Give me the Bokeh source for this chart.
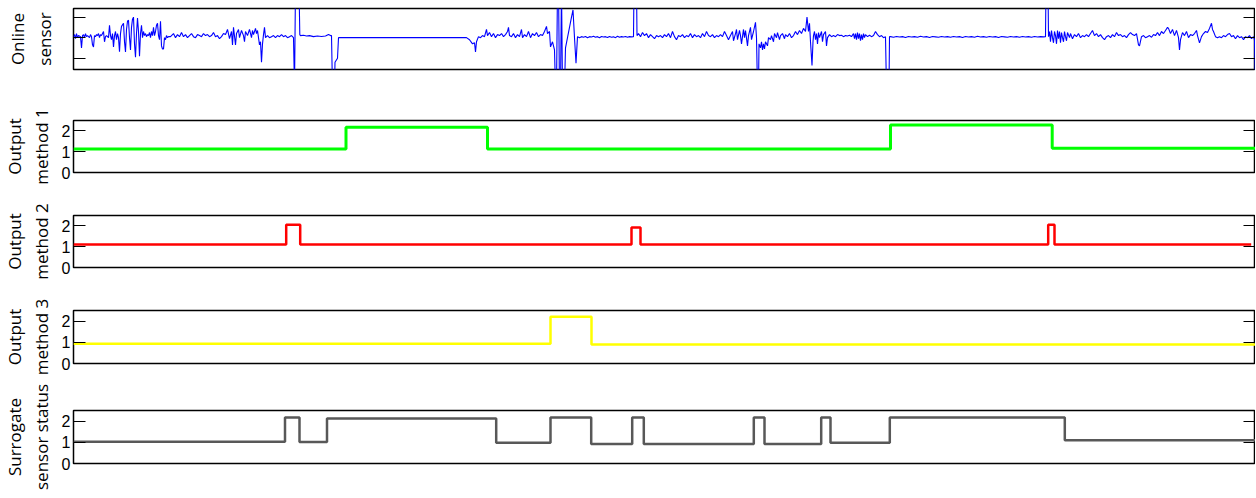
from bokeh.plotting import figure
from bokeh.layouts import column
from bokeh.models import Range1d, FixedTicker, LinearAxis
from bokeh.embed import file_html
from bokeh.resources import INLINE

# ---------------- data ----------------
# online sensor trace: (sample, value)
SENSOR_POINTS = [
    (0, 0.05), (1, 0.15), (2, -0.05), (3, 0.2), (4, 0.0), (5, 0.1), (7, 0.05), (8, -0.5), (9, 0.1),
    (10, 0.15), (11, 0.0), (12, 0.2), (13, 0.05), (14, 0.1), (16, 0.0), (17, 0.15), (18, 0.05),
    (19, -0.35), (20, -0.45), (21, 0.1), (22, 0.05), (23, 0.15), (24, 0.1), (25, 0.2), (26, 0.0),
    (27, 0.15), (28, 0.1), (30, 0.3), (31, -0.2), (32, 0.05), (33, 0.1), (35, 0.0), (36, 0.6),
    (37, 0.1), (38, -0.1), (39, 0.2), (40, -0.45), (41, 0.1), (42, 0.3), (43, -0.1), (44, 0.2),
    (45, 0.0), (46, -0.68), (47, 0.2), (48, 0.55), (50, 0.7), (51, -0.2), (52, -0.7), (53, 0.4),
    (54, 0.8), (55, 0.85), (56, 0.0), (57, -0.6), (58, 0.5), (59, 0.9), (60, 1.0), (61, -0.3),
    (62, -0.95), (63, 0.2), (64, 0.95), (65, 0.3), (66, -0.9), (67, 0.2), (68, 0.6), (69, 0.0),
    (70, 0.3), (71, 0.1), (72, 0.2), (73, 0.05), (74, 0.15), (75, 0.1), (76, 0.25), (77, 0.0),
    (78, 0.3), (79, 0.1), (80, 0.5), (81, 0.1), (82, 0.3), (83, 0.6), (84, 0.7), (85, 0.1),
    (86, -0.1), (87, 0.8), (88, -0.4), (89, -0.55), (90, -0.55), (91, 0.0), (92, -0.1), (93, 0.1),
    (94, 0.0), (95, 0.05), (97, 0.05), (100, 0.2), (102, 0.0), (104, 0.15), (106, 0.05),
    (108, 0.25), (110, 0.05), (112, 0.15), (114, 0.0), (116, 0.1), (118, 0.2), (120, 0.05),
    (122, 0.0), (124, 0.15), (126, 0.1), (128, 0.05), (130, 0.2), (132, 0.1), (134, 0.15),
    (136, 0.05), (138, 0.1), (140, 0.25), (142, 0.05), (144, 0.1), (146, -0.05), (148, 0.05),
    (150, 0.2), (152, 0.15), (154, 0.4), (156, -0.05), (158, 0.3), (159, -0.35), (160, 0.5),
    (162, -0.35), (163, 0.2), (165, 0.4), (166, 0.0), (168, 0.35), (170, 0.1), (171, -0.2),
    (172, 0.3), (174, 0.1), (176, 0.4), (178, 0.0), (179, 0.35), (180, 0.15), (182, 0.45),
    (183, 0.2), (184, 0.35), (186, -0.35), (187, -0.2), (188, -1.2), (189, -0.3), (190, 0.15),
    (191, 0.5), (192, 0.0), (194, 0.1), (196, 0.0), (198, 0.05), (200, 0.1), (202, 0.0),
    (204, 0.1), (206, 0.05), (208, 0.15), (210, 0.05), (212, 0.1), (214, 0.0), (216, 0.05),
    (218, 0.1), (220, 0.0), (221, -2.5), (222, 2.5), (225.5, 2.5), (226.3, 0.15),
    (227, 0.1), (230, 0.12), (233, 0.08), (236, 0.1), (240, 0.05), (244, 0.08), (248, 0.06),
    (252, 0.08), (255, 0.15), (257, 0.1), (258, 0.1), (259, -2.5), (261, -2.5), (261.5, -1.2),
    (264, -1.0), (265, 0.0), (393, 0.0), (396, -0.1), (399, -0.3), (401, -0.25), (402, -0.7),
    (403, -0.2), (405, 0.05), (407, 0.0), (409, 0.1), (411, 0.05), (413, 0.4), (414, 0.1),
    (416, 0.25), (418, 0.05), (420, 0.2), (422, 0.0), (424, 0.15), (426, 0.1), (428, 0.2),
    (430, 0.05), (432, 0.15), (434, 0.3), (435, 0.5), (436, 0.1), (438, 0.05), (440, 0.2),
    (442, 0.0), (444, 0.15), (446, 0.05), (448, 0.4), (449, 0.0), (451, 0.15), (453, 0.05),
    (455, 0.3), (457, 0.0), (459, 0.2), (461, 0.1), (463, 0.25), (465, 0.05), (467, 0.15),
    (469, 0.1), (471, 0.3), (473, 0.55), (474, 0.2), (476, 0.3), (477, -0.45), (479, -0.2),
    (481, -0.6), (482, -2.5), (483, -2.5), (484, 2.5), (485, 2.5), (486, -2.5), (487, -2.5),
    (488, 2.5), (489, -2.5), (491, -2.5), (492, -0.5), (494, 0.0), (496, 0.5), (498, 1.0),
    (499.5, 1.35), (501, 0.0), (502.5, -1.25), (504, 0.05), (506, 0.0), (508, 0.05),
    (510, 0.02), (512, 0.06), (514, 0.0), (516, 0.05), (518, 0.03), (520, 0.07), (522, 0.02),
    (524, 0.05), (526, 0.0), (528, 0.06), (530, 0.03), (532, 0.05), (534, 0.01), (536, 0.06),
    (538, 0.02), (540, 0.04), (542, 0.0), (544, 0.07), (546, 0.02), (548, 0.05), (550, 0.03),
    (552, 0.06), (554, 0.02), (556, 0.05), (558, 0.04), (560, 0.05), (560.5, 2.5), (563, 2.5),
    (563.5, 0.1), (565, 0.2), (567, 0.05), (569, 0.25), (571, 0.1), (573, 0.2), (575, 0.0),
    (577, 0.15), (579, 0.05), (581, -0.05), (583, 0.1), (585, 0.05), (587, 0.1), (589, 0.0),
    (591, 0.15), (593, 0.05), (595, 0.2), (597, 0.0), (599, 0.3), (601, 0.05), (603, -0.1),
    (605, 0.1), (607, 0.05), (609, 0.15), (611, 0.0), (613, 0.1), (615, 0.05), (617, 0.2),
    (619, 0.0), (621, 0.15), (623, 0.05), (625, 0.1), (627, 0.0), (629, 0.2), (631, 0.05),
    (633, 0.3), (635, 0.1), (637, 0.05), (639, 0.15), (641, 0.0), (643, 0.1), (645, 0.05),
    (647, 0.15), (649, 0.05), (651, 0.3), (653, 0.1), (655, -0.1), (657, 0.1), (659, 0.3),
    (660, -0.15), (662, 0.2), (663, 0.4), (664, -0.1), (666, 0.35), (667, 0.1), (668, -0.3),
    (670, 0.4), (671, 0.0), (672, 0.35), (674, -0.4), (675, 0.1), (677, 0.5), (678, -0.1),
    (680, 0.3), (682, 0.75), (683, 0.0), (684, -2.5), (685, -2.5), (685.5, -0.3), (687, -0.5),
    (688, -0.2), (689, -0.6), (690, -0.3), (691, -0.55), (692, -0.2), (694, -0.4), (695, 0.0),
    (697, -0.1), (698, 0.1), (700, -0.2), (701, 0.2), (703, 0.0), (704, 0.25), (706, -0.1),
    (707, 0.1), (709, 0.2), (711, -0.05), (712, 0.15), (714, 0.05), (716, 0.2), (718, 0.0),
    (720, 0.1), (722, 0.3), (724, 0.15), (726, 0.35), (728, 0.2), (730, 0.45), (732, 0.3),
    (733.5, 1.0), (735, 0.3), (736, 0.7), (737, -0.2), (738.5, -1.35), (739.5, -0.2),
    (740, 0.1), (741, 0.3), (742, -0.1), (743, 0.2), (744, -0.3), (745, 0.25), (746, 0.0),
    (748, 0.3), (749, -0.2), (750, 0.15), (752, 0.3), (753, -0.4), (754, 0.0), (756, 0.15),
    (758, 0.05), (760, 0.1), (762, 0.05), (764, 0.15), (766, 0.1), (768, 0.12), (770, 0.05),
    (772, 0.1), (774, 0.08), (776, 0.12), (778, 0.05), (780, 0.2), (781, -0.05), (782, 0.2),
    (783, -0.1), (784, 0.25), (785, -0.05), (786, 0.2), (787, -0.15), (788, 0.15), (789, -0.1),
    (790, 0.2), (791, 0.0), (792, 0.15), (794, 0.05), (796, 0.12), (798, 0.05), (800, 0.1),
    (802, 0.3), (804, 0.15), (806, 0.05), (808, 0.1), (810, 0.0), (812, 0.05), (813, -2.5),
    (815.5, -2.5), (816, 0.05), (817, 0.05), (820, 0.02), (823, 0.06), (826, 0.03), (829, 0.05),
    (832, 0.01), (835, 0.06), (838, 0.03), (841, 0.05), (844, 0.02), (847, 0.07), (850, 0.03),
    (853, 0.05), (856, 0.01), (859, 0.06), (862, 0.04), (865, 0.02), (868, 0.06), (871, 0.03),
    (874, 0.05), (877, 0.02), (880, 0.06), (883, 0.03), (886, 0.05), (889, 0.01), (892, 0.06),
    (895, 0.03), (898, 0.05), (901, 0.02), (904, 0.07), (907, 0.03), (910, 0.05), (913, 0.02),
    (916, 0.06), (919, 0.03), (922, 0.05), (925, 0.01), (928, 0.06), (931, 0.04), (934, 0.02),
    (937, 0.06), (940, 0.03), (943, 0.05), (946, 0.02), (949, 0.06), (952, 0.03), (955, 0.05),
    (958, 0.02), (961, 0.06), (964, 0.03), (967, 0.05), (970, 0.04), (972, 0.05), (972.5, 2.5),
    (974.5, 2.5), (975, 0.05), (976, 0.3), (977, -0.2), (978, 0.35), (979, 0.0), (980, -0.25),
    (981, 0.3), (982, 0.1), (983, -0.3), (984, 0.35), (985, -0.05), (986, 0.3), (987, -0.25),
    (988, 0.25), (989, 0.0), (990, -0.2), (991, 0.3), (992, 0.05), (993, -0.15), (994, 0.25),
    (996, 0.0), (997, 0.2), (999, -0.05), (1001, 0.15), (1003, 0.05), (1005, 0.2), (1007, 0.0),
    (1009, 0.1), (1011, 0.05), (1013, 0.15), (1015, 0.05), (1017, 0.2), (1019, 0.35),
    (1021, 0.1), (1023, 0.2), (1025, 0.05), (1027, 0.15), (1029, 0.0), (1031, -0.1),
    (1033, 0.05), (1035, 0.1), (1037, 0.0), (1039, 0.15), (1041, 0.05), (1043, 0.25),
    (1045, 0.1), (1047, 0.15), (1049, 0.05), (1051, 0.1), (1053, 0.0), (1055, 0.15),
    (1057, 0.25), (1059, 0.15), (1061, 0.1), (1063, 0.2), (1065, -0.35), (1066, -0.4),
    (1068, 0.05), (1070, 0.1), (1072, 0.0), (1074, 0.05), (1076, 0.1), (1078, 0.02),
    (1080, 0.15), (1082, 0.1), (1084, 0.25), (1086, 0.1), (1088, 0.3), (1090, 0.2),
    (1092, 0.35), (1094, 0.5), (1095, 0.45), (1097, 0.2), (1099, 0.4), (1101, 0.1),
    (1103, 0.35), (1105, 0.0), (1106, -0.6), (1107, -0.1), (1109, 0.25), (1111, 0.1),
    (1113, 0.3), (1115, 0.0), (1117, 0.15), (1119, 0.1), (1121, 0.2), (1123, 0.35), (1124, 0.1),
    (1126, -0.25), (1128, 0.05), (1130, 0.2), (1132, 0.3), (1134, 0.25), (1136, 0.45),
    (1138, 0.7), (1139, 0.4), (1140, 0.3), (1142, 0.05), (1144, 0.0), (1146, 0.05), (1148, 0.0),
    (1150, 0.1), (1152, 0.05), (1154, 0.15), (1156, 0.2), (1158, 0.05), (1160, 0.1),
    (1162, -0.05), (1164, 0.1), (1166, 0.0), (1168, 0.05), (1170, -0.1), (1172, 0.05),
    (1174, 0.0), (1176, 0.1), (1178, -0.05), (1180, 0.05), (1181, -0.1), (1182, -2.5),
]

# step outputs: change points (sample) and level held from that point on
M1_T = [0, 272.5, 414, 817, 978.7, 1182]
M1_V = [1.13, 2.17, 1.13, 2.28, 1.16, 1.16]

M2_T = [0, 212.7, 226.7, 558, 567, 974.7, 981, 1177.7]
M2_V = [1.1, 2.06, 1.1, 1.92, 1.1, 2.06, 1.1, 1.1]

M3_T = [0, 477, 518, 1182]
M3_V = [0.93, 2.2, 0.9, 0.9]

SUR_T = [0, 211.5, 226, 253.5, 422.7, 477, 517.7, 558.7, 570.3, 680.3, 691, 747.7, 757,
         816.3, 991.3, 1182]
SUR_V = [1.03, 2.17, 1.02, 2.12, 0.98, 2.17, 0.92, 2.17, 0.92, 2.17, 0.92, 2.17, 0.98,
         2.17, 1.1, 1.1]

LABELS = ["Online\nsensor", "Output\nmethod 1", "Output\nmethod 2", "Output\nmethod 3",
          "Surrogate\nsensor status"]
STEP_TICKS = [0, 1, 2]
SENSOR_TICKS = [-1, 0, 1]

# ---------------- plotting ----------------
X_MAX = 1182
FRAME_W = 1182
LEFT = 73
LABEL_FONT = "Open Sans"
TICK_FONT = "Liberation Sans"


def make_panel(label, frame_h, top, bottom, yr, ticks, show_labels=True):
    p = figure(frame_width=FRAME_W, frame_height=frame_h, x_axis_type=None,
               x_range=Range1d(0, X_MAX), y_range=Range1d(*yr),
               output_backend="svg", toolbar_location=None,
               min_border_left=LEFT, min_border_right=0,
               min_border_top=top, min_border_bottom=bottom)
    p.grid.visible = False
    p.outline_line_color = "black"
    p.outline_line_width = 1.5
    p.background_fill_color = "white"
    p.border_fill_color = "white"
    ax = p.yaxis[0]
    ax.ticker = FixedTicker(ticks=ticks)
    ax.axis_line_color = None
    ax.major_tick_in = 12
    ax.major_tick_out = 0
    ax.minor_tick_line_color = None
    ax.major_tick_line_color = "black"
    ax.major_label_standoff = 3
    ax.major_label_text_font = TICK_FONT
    ax.major_label_text_color = "black"
    ax.axis_label = label
    ax.axis_label_text_font = LABEL_FONT
    ax.axis_label_text_font_size = "17px"
    ax.axis_label_text_font_style = "normal"
    ax.axis_label_text_color = "black"
    ax.axis_label_text_line_height = 1.15
    if show_labels:
        ax.major_label_text_font_size = "16px"
        ax.axis_label_standoff = 6
    else:
        ax.major_label_text_font_size = "0px"
        ax.major_label_text_color = None
        ax.major_label_standoff = 0
        ax.axis_label_standoff = 18

    rax = LinearAxis(ticker=FixedTicker(ticks=ticks), axis_line_color=None,
                     major_tick_in=12, major_tick_out=0, minor_tick_line_color=None,
                     major_tick_line_color="black", major_label_standoff=0,
                     major_label_text_font_size="0px", major_label_text_color=None)
    p.add_layout(rax, "right")
    return p


sensor_t = [pt[0] for pt in SENSOR_POINTS]
sensor_v = [pt[1] for pt in SENSOR_POINTS]

p1 = make_panel(LABELS[0], 61, 8, 31, (-1.55, 1.42), SENSOR_TICKS, show_labels=False)
p1.line(sensor_t, sensor_v, line_color="#0000FF", line_width=1.1)

p2 = make_panel(LABELS[1], 52, 20, 23, (0, 2.5), STEP_TICKS)
p2.step(M1_T, M1_V, mode="after", line_color="#00FF00", line_width=3)

p3 = make_panel(LABELS[2], 52, 20, 23, (0, 2.5), STEP_TICKS)
p3.step(M2_T, M2_V, mode="after", line_color="#FF0000", line_width=2.5)

p4 = make_panel(LABELS[3], 53, 20, 20, (0, 2.5), STEP_TICKS)
p4.step(M3_T, M3_V, mode="after", line_color="#FFFF00", line_width=2.5)

p5 = make_panel(LABELS[4], 53, 27, 35, (0, 2.5), STEP_TICKS)
p5.step(SUR_T, SUR_V, mode="after", line_color="#585858", line_width=2.5)

layout = column(p1, p2, p3, p4, p5, spacing=0)

open("out.html", "w").write(file_html(layout, INLINE))
